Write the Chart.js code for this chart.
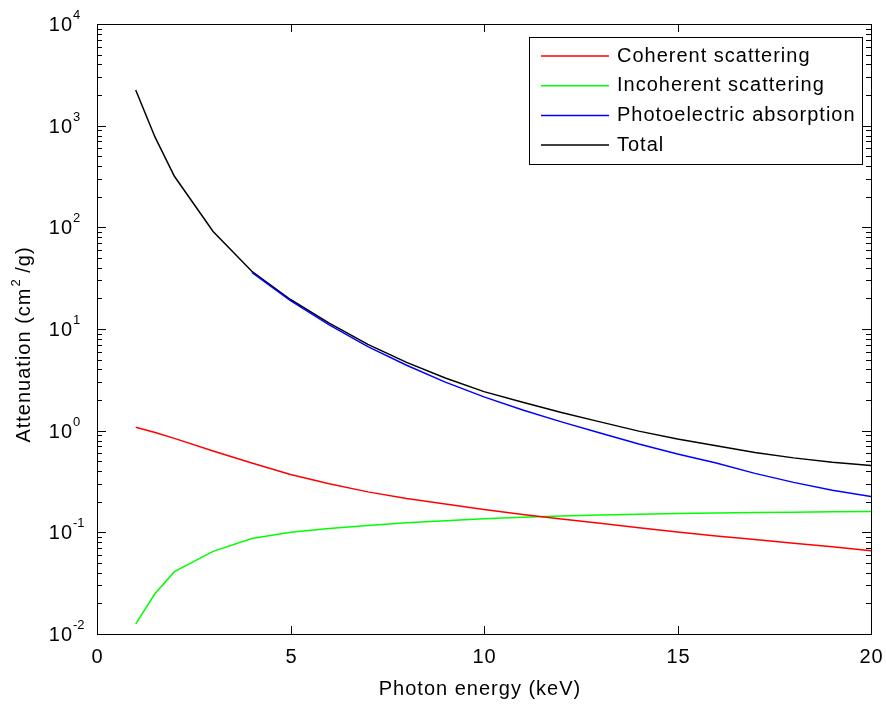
<!DOCTYPE html>
<html>
<head>
<meta charset="utf-8">
<script src="https://cdn.jsdelivr.net/npm/chart.js@4.4.0/dist/chart.umd.min.js"></script>
<style>
  html, body { margin: 0; padding: 0; background: #fff; }
</style>
</head>
<body>
<canvas id="myChart" width="886" height="705"></canvas>
<script>
// photon energy (keV)
var energy = [1, 1.5, 2, 3, 4, 5, 6, 7, 8, 9, 10, 11, 12, 13, 14, 15, 16, 17, 18, 19, 20];

// attenuation (cm2/g)
var coherent     = [1.08, 0.96, 0.84, 0.63, 0.48, 0.37, 0.30, 0.25, 0.215, 0.19, 0.168, 0.150, 0.135, 0.123, 0.111, 0.101, 0.092, 0.085, 0.078, 0.072, 0.066];
var incoherent   = [0.0126, 0.025, 0.041, 0.065, 0.087, 0.100, 0.109, 0.117, 0.124, 0.130, 0.136, 0.141, 0.145, 0.148, 0.151, 0.153, 0.155, 0.157, 0.158, 0.159, 0.160];
var photoelectric = [null, null, null, null, 36, 19, 11.0, 6.7, 4.4, 3.0, 2.15, 1.6, 1.22, 0.95, 0.74, 0.59, 0.48, 0.38, 0.31, 0.26, 0.225];
var total        = [2240, 770, 318, 91, 37, 19.5, 11.4, 7.05, 4.7, 3.3, 2.42, 1.9, 1.51, 1.22, 0.99, 0.83, 0.71, 0.61, 0.54, 0.49, 0.455];

var seriesNames = ['Coherent scattering', 'Incoherent scattering', 'Photoelectric absorption', 'Total'];
var seriesColors = ['rgb(255, 0, 0)', 'rgb(0, 255, 0)', 'rgb(0, 0, 255)', 'rgb(0, 0, 0)'];

var xTicks = [0, 5, 10, 15, 20];
var yTickValues = [0.01, 0.1, 1, 10, 100, 1000, 10000];
var yTickExp = ['-2', '-1', '0', '1', '2', '3', '4'];

var FONT = '"Liberation Sans", Arial, sans-serif';

function toPoints(vals) {
    var pts = [];
    for (var i = 0; i < energy.length; i++) {
        if (vals[i] !== null) pts.push({x: energy[i], y: vals[i]});
    }
    return pts;
}

function line(ctx, x1, y1, x2, y2) {
    ctx.beginPath();
    ctx.moveTo(x1, y1);
    ctx.lineTo(x2, y2);
    ctx.stroke();
}

function bigFont(ctx) {
    ctx.font = '20px ' + FONT;
    ctx.letterSpacing = '1px';
}
function smallFont(ctx) {
    ctx.font = '13px ' + FONT;
    ctx.letterSpacing = '0px';
}

// matlab style box, inward ticks, labels and legend
var matlabFrame = {
    id: 'matlabFrame',
    afterDatasetsDraw: function(chart) {
        var ctx = chart.ctx;
        var a = chart.chartArea;
        var xs = chart.scales.x;
        var ys = chart.scales.y;
        ctx.save();
        ctx.strokeStyle = '#000';
        ctx.fillStyle = '#000';
        ctx.lineWidth = 1;
        ctx.strokeRect(a.left + 0.5, a.top + 0.5, a.right - a.left, a.bottom - a.top);

        // x ticks
        bigFont(ctx);
        ctx.textAlign = 'center';
        ctx.textBaseline = 'middle';
        xTicks.forEach(function(v) {
            var px = Math.round(xs.getPixelForValue(v)) + 0.5;
            line(ctx, px, a.bottom, px, a.bottom - 8);
            line(ctx, px, a.top, px, a.top + 8);
            ctx.fillText(String(v), px, a.bottom + 23);
        });
        ctx.fillText('Photon energy (keV)', (a.left + a.right) / 2 - 4, a.bottom + 55);

        // y ticks, major and minor
        for (var d = 0; d < yTickValues.length; d++) {
            var base = yTickValues[d];
            var py = Math.round(ys.getPixelForValue(base)) + 0.5;
            line(ctx, a.left, py, a.left + 9, py);
            line(ctx, a.right, py, a.right - 9, py);
            if (d < yTickValues.length - 1) {
                for (var m = 2; m <= 9; m++) {
                    var my = Math.round(ys.getPixelForValue(base * m)) + 0.5;
                    line(ctx, a.left, my, a.left + 5, my);
                    line(ctx, a.right, my, a.right - 5, my);
                }
            }
            bigFont(ctx);
            ctx.textAlign = 'right';
            ctx.textBaseline = 'middle';
            ctx.fillText('10', a.left - 24, py + 1);
            smallFont(ctx);
            ctx.textAlign = 'left';
            ctx.fillText(yTickExp[d], a.left - 24, py - 9);
        }

        // y title
        ctx.save();
        ctx.translate(24, 345);
        ctx.rotate(-Math.PI / 2);
        ctx.textBaseline = 'middle';
        var t1 = 'Attenuation (cm', t3 = ' /g)';
        bigFont(ctx);
        var w1 = ctx.measureText(t1).width;
        smallFont(ctx);
        var w2 = ctx.measureText('2').width;
        bigFont(ctx);
        var w3 = ctx.measureText(t3).width;
        var x0 = -(w1 + w2 + w3) / 2;
        ctx.textAlign = 'left';
        ctx.fillText(t1, x0, 0);
        smallFont(ctx);
        ctx.fillText('2', x0 + w1 + 1, -8);
        bigFont(ctx);
        ctx.fillText(t3, x0 + w1 + w2 + 1, 0);
        ctx.restore();

        // legend box
        var lx = 529, ly = 37, lw = 333, lh = 127;
        ctx.fillStyle = '#fff';
        ctx.fillRect(lx, ly, lw, lh);
        ctx.strokeStyle = '#000';
        ctx.lineWidth = 1;
        ctx.strokeRect(lx + 0.5, ly + 0.5, lw, lh);
        bigFont(ctx);
        ctx.textAlign = 'left';
        ctx.textBaseline = 'middle';
        chart.data.datasets.forEach(function(ds, i) {
            var ry = ly + 19 + i * 29.7;
            ctx.strokeStyle = ds.borderColor;
            ctx.lineWidth = 1.5;
            line(ctx, lx + 12, ry, lx + 80, ry);
            ctx.fillStyle = '#000';
            ctx.fillText(ds.label, lx + 88, ry);
        });
        ctx.restore();
    }
};

var datasets = [coherent, incoherent, photoelectric, total].map(function(vals, i) {
    return {
        label: seriesNames[i],
        data: toPoints(vals),
        borderColor: seriesColors[i],
        backgroundColor: seriesColors[i],
        borderWidth: 1.5,
        pointRadius: 0,
        tension: 0,
        fill: false
    };
});

var ctx = document.getElementById('myChart').getContext('2d');
var chart = new Chart(ctx, {
    type: 'line',
    data: { datasets: datasets },
    options: {
        responsive: false,
        animation: false,
        layout: { padding: { left: 97, top: 24, right: 15, bottom: 71 } },
        plugins: {
            legend: { display: false },
            tooltip: { enabled: false }
        },
        scales: {
            x: { type: 'linear', min: 0, max: 20, display: false },
            y: { type: 'logarithmic', min: 0.01, max: 10000, display: false }
        }
    },
    plugins: [matlabFrame]
});
</script>
</body>
</html>
